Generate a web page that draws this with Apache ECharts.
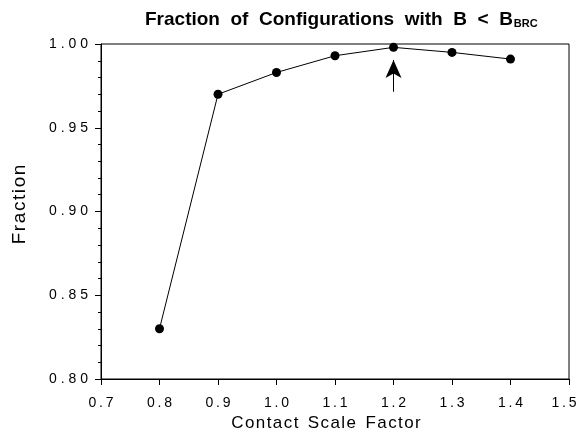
<!DOCTYPE html>
<html>
<head>
<meta charset="utf-8">
<script src="https://cdn.jsdelivr.net/npm/echarts@6/dist/echarts.min.js"></script>
<style>
  html, body { margin: 0; padding: 0; background: #fff; }
  #chart { width: 578px; height: 437px; }
</style>
</head>
<body>
<div id="chart"></div>
<script>
// Contact scale factor values sampled
const scaleFactors = [0.8, 0.9, 1.0, 1.1, 1.2, 1.3, 1.4];
// Fraction of configurations with B < B_BRC
const fractions = [0.830, 0.970, 0.983, 0.993, 0.998, 0.995, 0.991];
// Optimal scale factor marked with an arrow
const arrowX = 1.2;
const arrowFrom = 0.9715;
const arrowTo = 0.9905;

const font = 'Liberation Sans, Arial, Helvetica, sans-serif';
// widen text by putting a separator between characters (wide tracking)
const spaced = (s, sep) => s.split('').join(sep);

const chart = echarts.init(document.getElementById('chart'));

chart.setOption({
  backgroundColor: '#fff',
  animation: false,
  title: {
    text: '{t|Fraction  of  Configurations  with  B  <  B}{s|BRC}',
    left: 140,
    top: 5,
    textStyle: {
      rich: {
        t: { fontFamily: font, fontWeight: 'bold', fontSize: 19, color: '#000' },
        s: { fontFamily: font, fontWeight: 'bold', fontSize: 11, color: '#000', verticalAlign: 'bottom', padding: [8, 0, 0, 1] }
      }
    }
  },
  grid: {
    left: 101, right: 9, top: 44, bottom: 58,
    outerBoundsMode: 'none',
    containLabel: false,
    show: true, borderColor: '#000', borderWidth: 1
  },
  xAxis: {
    type: 'value',
    min: 0.7, max: 1.5, interval: 0.1,
    name: spaced('Contact', '\u200A') + '  ' + spaced('Scale', '\u200A') + '  ' + spaced('Factor', '\u200A'),
    nameLocation: 'middle',
    nameGap: 34,
    nameTextStyle: { fontFamily: font, fontSize: 17, color: '#000', padding: [0, 18, 0, 0] },
    axisLine: { show: true, lineStyle: { color: '#000', width: 1 } },
    axisTick: { show: true, inside: false, length: 6, lineStyle: { color: '#000' } },
    axisLabel: {
      margin: 17, fontFamily: font, fontSize: 14, color: '#000',
      formatter: v => {
        const s = spaced(v.toFixed(1), '\u2009');
        // keep the last label inside the page edge
        return v >= 1.5 ? '{r|' + s + '}' : s;
      },
      rich: { r: { fontFamily: font, fontSize: 14, color: '#000', padding: [0, 10, 0, 0] } }
    },
    splitLine: { show: false }
  },
  yAxis: {
    type: 'value',
    min: 0.8, max: 1.0, interval: 0.05,
    name: spaced('Fraction', '\u200A'),
    nameLocation: 'middle',
    nameGap: 72,
    nameRotate: 90,
    nameTextStyle: { fontFamily: font, fontSize: 19, color: '#000', padding: [0, 0, 0, 14] },
    axisLine: { show: true, lineStyle: { color: '#000', width: 1 } },
    axisTick: { show: true, inside: false, length: 6, lineStyle: { color: '#000' } },
    minorTick: { show: true, splitNumber: 5, length: 3, lineStyle: { color: '#000' } },
    axisLabel: { margin: 13, fontFamily: font, fontSize: 14, color: '#000', formatter: v => spaced(v.toFixed(2), ' ') },
    splitLine: { show: false }
  },
  series: [{
    type: 'line',
    data: scaleFactors.map((x, i) => [x, fractions[i]]),
    symbol: 'circle',
    symbolSize: 9,
    itemStyle: { color: '#000' },
    lineStyle: { color: '#000', width: 1 },
    markLine: {
      silent: true,
      symbol: ['none', 'arrow'],
      symbolSize: [12, 18],
      label: { show: false },
      lineStyle: { color: '#000', width: 1, type: 'solid' },
      data: [[{ coord: [arrowX, arrowFrom] }, { coord: [arrowX, arrowTo] }]]
    }
  }]
});
</script>
</body>
</html>
